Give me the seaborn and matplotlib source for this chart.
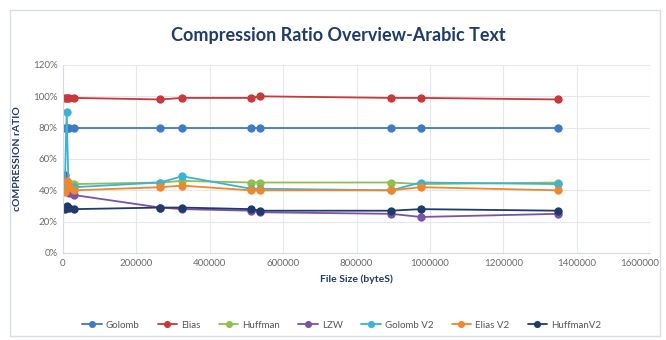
import matplotlib
matplotlib.use("Agg")
import matplotlib.pyplot as plt
import matplotlib.transforms as mtransforms
from matplotlib.patches import Rectangle
from matplotlib.ticker import FuncFormatter
import seaborn as sns
import pandas as pd

# File sizes (bytes) of the Arabic test texts
file_sizes = [5000, 10000, 15000, 30000, 265000, 325000, 512000, 537000, 895000, 975000, 1350000]

# Compression ratio (%) per algorithm
golomb     = [80, 80, 80, 80, 80, 80, 80, 80, 80, 80, 80]
elias      = [99, 99, 99, 99, 98, 99, 99, 100, 99, 99, 98]
huffman    = [42, 44, 45, 44, 45, 46, 45, 45, 45, 44, 45]
lzw        = [50, 40, 38, 37, 29, 28, 27, 26, 25, 23, 25]
golomb_v2  = [43, 90, 42, 42, 45, 49, 41, 41, 40, 45, 44]
elias_v2   = [39, 46, 42, 40, 42, 43, 40, 40, 40, 42, 40]
huffman_v2 = [28, 30, 29, 28, 29, 29, 28, 27, 27, 28, 27]

series_names = ["Golomb", "Elias", "Huffman", "LZW", "Golomb V2", "Elias V2", "HuffmanV2"]
series_values = [golomb, elias, huffman, lzw, golomb_v2, elias_v2, huffman_v2]
palette = ["#3F7BC4", "#C9383A", "#8DC04D", "#7D52A6", "#3BB2D6", "#F0872C", "#1F3A6B"]

y_ticks = [0, 20, 40, 60, 80, 100, 120]
x_ticks = [0, 200000, 400000, 600000, 800000, 1000000, 1200000, 1400000, 1600000]

rows = []
for name, vals in zip(series_names, series_values):
    for i, (s, v) in enumerate(zip(file_sizes, vals)):
        rows.append({"File Size": s, "Ratio": v, "Algorithm": name, "order": i})
df = pd.DataFrame(rows)

sns.set_theme(style="white")
plt.rcParams["font.family"] = ["Lato", "DejaVu Sans"]

fig = plt.figure(figsize=(6.66, 3.40), dpi=100)
fig.patch.set_facecolor("white")
fig.add_artist(Rectangle((10 / 666, 4 / 340), 650 / 666, 326 / 340,
                         transform=fig.transFigure, fill=False,
                         edgecolor="#D6DEE8", linewidth=1.0))

ax = fig.add_axes([63 / 666, 1 - 253 / 340, 587 / 666, 188 / 340])

for name, color in zip(series_names, palette):
    sub = df[df["Algorithm"] == name].sort_values("order")
    sns.lineplot(data=sub, x="File Size", y="Ratio", ax=ax, sort=False,
                 color=color, marker="o", markersize=6, markeredgewidth=0,
                 linewidth=1.3, label=name, estimator=None)

ax.set_xlim(0, 1600000)
ax.set_ylim(0, 120)
ax.set_xticks(x_ticks)
ax.set_yticks(y_ticks)
ax.xaxis.set_major_formatter(FuncFormatter(lambda v, p: f"{int(v)}"))
ax.yaxis.set_major_formatter(FuncFormatter(lambda v, p: f"{int(v)}%"))
ax.tick_params(axis="both", labelsize=7, colors="#6B6B6B", length=0, pad=4)
ax.grid(True, color="#E3E8EF", linewidth=0.8)
for side in ["top", "right"]:
    ax.spines[side].set_visible(False)
for side in ["left", "bottom"]:
    ax.spines[side].set_color("#D3DAE3")
    ax.spines[side].set_linewidth(0.8)

# keep the last x tick label inside the chart frame
last_label = ax.get_xticklabels()[-1]
last_label.set_transform(last_label.get_transform() +
                         mtransforms.ScaledTranslation(-10 / 100, 0, fig.dpi_scale_trans))

ax.set_xlabel("File Size (byteS)", fontsize=7.5, fontweight="bold", color="#1F3A6B", labelpad=5)
ax.set_ylabel("cOMPRESSION rATIO", fontsize=7.5, fontweight="bold", color="#1F3A6B", labelpad=8)

fig.text(0.508, 1 - 36 / 340, "Compression Ratio Overview-Arabic Text",
         ha="center", va="center", fontsize=13, fontweight="bold", color="#1F3A6B")

handles, labels = ax.get_legend_handles_labels()
ax.legend_.remove()
fig.legend(handles, labels, loc="center", bbox_to_anchor=(0.513, 1 - 325 / 340),
           ncol=7, frameon=False, fontsize=7, handlelength=2.0, handletextpad=0.4,
           columnspacing=1.9, labelcolor="#555555", markerscale=0.85)

fig.savefig("out.png", dpi=100, facecolor="white")
